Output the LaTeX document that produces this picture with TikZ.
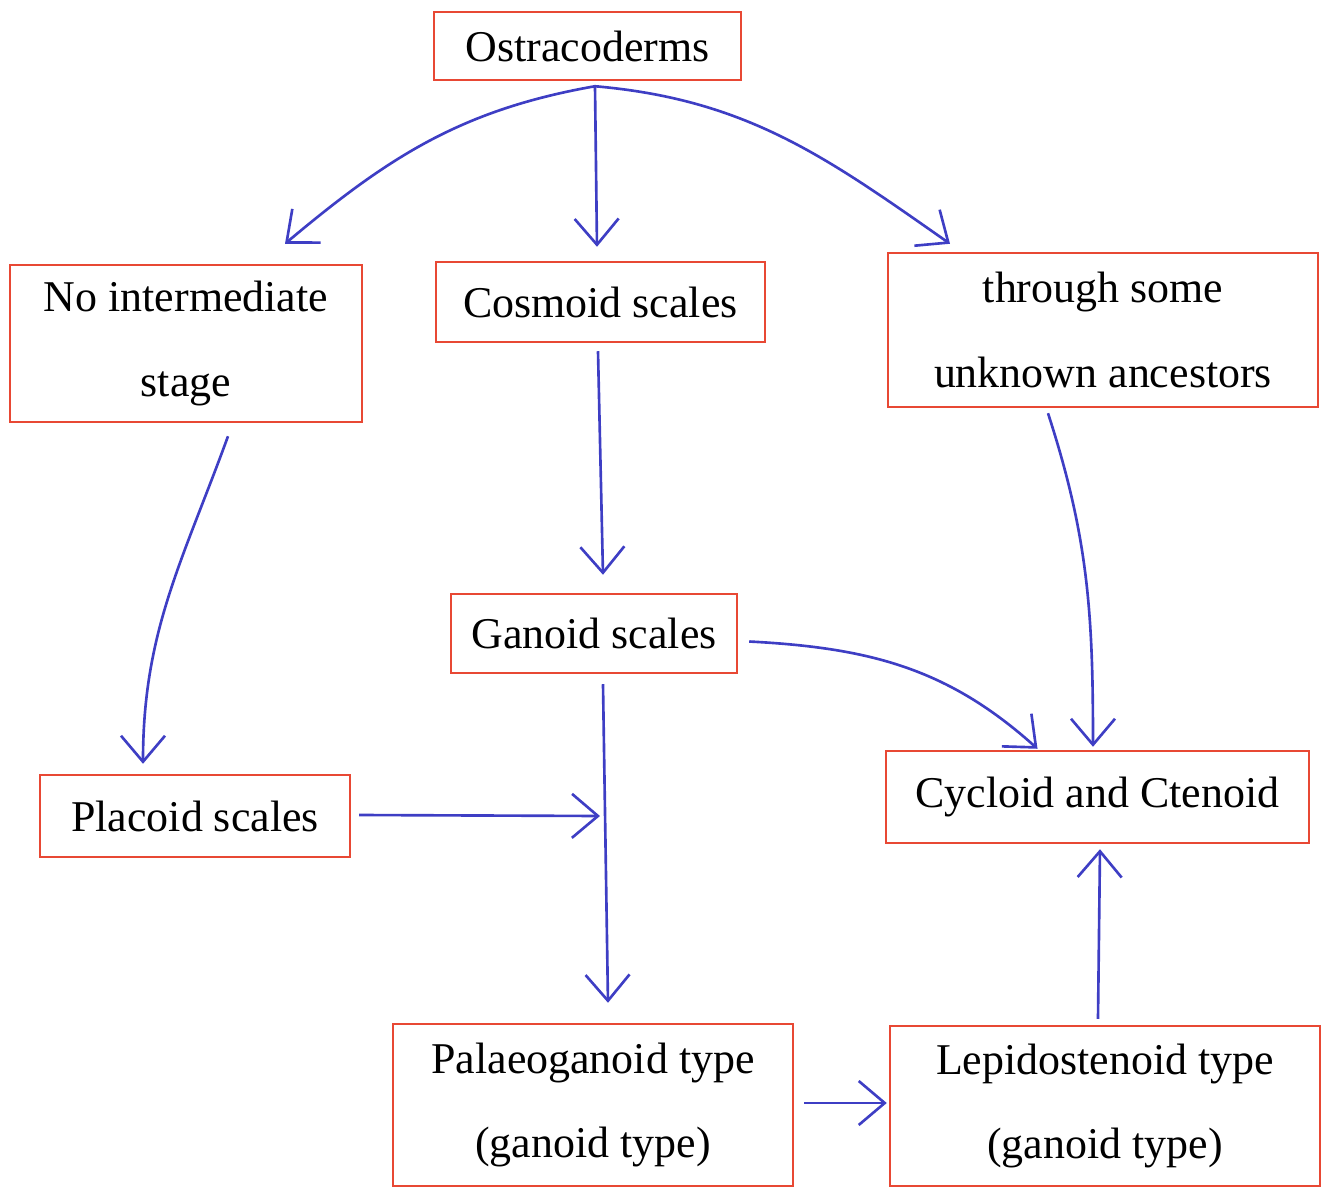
\documentclass[tikz,border=0pt]{standalone}
\usepackage{fontspec}
\setmainfont{Liberation Serif}
\usetikzlibrary{arrows.meta}
\definecolor{boxred}{RGB}{232,72,52}
\definecolor{penblue}{RGB}{62,62,196}
\begin{document}
\begin{tikzpicture}[
    >={Straight Barb[length=2.6mm,width=4.4mm]},
    scalebox/.style={draw=boxred, line width=0.7pt, inner sep=0pt, align=center,
      font=\fontsize{12.5}{24}\selectfont},
    arr/.style={->, draw=penblue, line width=0.75pt}]
  \useasboundingbox (0, 0) rectangle (13.27, -11.89);

  \node[scalebox, minimum width=3.07cm, minimum height=0.68cm] (ost) at (5.875, -0.46) {Ostracoderms};
  \node[scalebox, minimum width=3.52cm, minimum height=1.57cm] (noint) at (1.86, -3.435) {\raisebox{-3.5pt}{No intermediate}\\\raisebox{-3.5pt}{stage}};
  \node[scalebox, minimum width=3.29cm, minimum height=0.80cm] (cosmoid) at (6.005, -3.02) {Cosmoid scales};
  \node[scalebox, minimum width=4.30cm, minimum height=1.54cm] (through) at (11.03, -3.30) {through some\\unknown ancestors};
  \node[scalebox, minimum width=2.86cm, minimum height=0.79cm] (ganoid) at (5.94, -6.335) {Ganoid scales};
  \node[scalebox, minimum width=3.10cm, minimum height=0.82cm] (placoid) at (1.95, -8.16) {Placoid scales};
  \node[scalebox, minimum width=4.23cm, minimum height=0.92cm] (cyc) at (10.975, -7.97) {Cycloid and Ctenoid};
  \node[scalebox, minimum width=4.00cm, minimum height=1.62cm] (palaeo) at (5.93, -11.05) {\raisebox{-2pt}{Palaeoganoid type}\\\raisebox{-2pt}{(ganoid type)}};
  \node[scalebox, minimum width=4.30cm, minimum height=1.60cm] (lepido) at (11.05, -11.06) {Lepidostenoid type\\(ganoid type)};

  \coordinate (fork) at ([xshift=0.75mm, yshift=-0.5mm]ost.south);
  \coordinate (meet) at (6.0, -8.15);

  % from the ostracoderms
  \draw[arr] (fork) to[out=190, in=40] ([xshift=0.99cm, yshift=2mm]noint.north);
  \draw[arr] (fork) -- ([xshift=-0.35mm, yshift=1.4mm]cosmoid.north);
  \draw[arr] (fork) to[out=-5, in=145] ([xshift=-1.53cm, yshift=0.8mm]through.north);

  \draw[arr] ([xshift=-0.25mm, yshift=-0.8mm]cosmoid.south) -- ([xshift=0.9mm, yshift=1.8mm]ganoid.north);
  \draw[arr] ([xshift=0.42cm, yshift=-1.3mm]noint.south) to[out=-110, in=90] ([xshift=-0.52cm, yshift=1mm]placoid.north);
  \draw[arr] ([xshift=0.9mm, yshift=-1mm]ganoid.south) -- ([xshift=1.5mm, yshift=2mm]palaeo.north);
  \draw[arr] ([xshift=0.8mm, yshift=0.1mm]placoid.east) -- (placoid.east -| meet);

  % towards cycloid and ctenoid
  \draw[arr] ([xshift=1.1mm, yshift=-0.8mm]ganoid.east) to[out=-3, in=138] ([xshift=-0.6cm, yshift=0.1mm]cyc.north);
  \draw[arr] ([xshift=-0.55cm, yshift=-0.5mm]through.south) to[out=-72, in=90] ([xshift=-0.45mm, yshift=0.3mm]cyc.north);
  \draw[arr] ([xshift=-0.7mm, yshift=0.6mm]lepido.north) -- ([xshift=0.25mm, yshift=-0.5mm]cyc.south);
  \draw[arr] ([xshift=1mm, yshift=0.2mm]palaeo.east) -- ([xshift=-0.2mm, yshift=0.2mm]palaeo.east -| lepido.west);
\end{tikzpicture}
\end{document}
